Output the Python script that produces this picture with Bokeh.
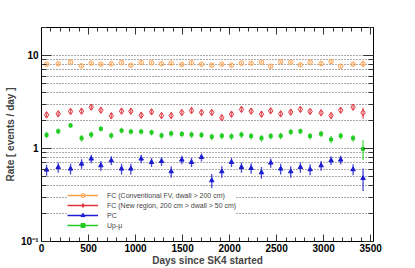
from bokeh.plotting import figure
from bokeh.models import (FixedTicker, SingleIntervalTicker, LinearAxis, LogAxis,
                          Legend, LegendItem)
from bokeh.embed import file_html
from bokeh.resources import INLINE

# ---- data ----
days = [54, 178, 309, 426, 529, 631, 742, 851, 950, 1060, 1170, 1276, 1379, 1492,
        1595, 1701, 1810, 1917, 2020, 2126, 2229, 2339, 2437, 2543, 2650, 2753,
        2856, 2973, 3079, 3181, 3313, 3419]

fc_conv = [8.06, 8.14, 8.47, 7.75, 8.27, 8.06, 8.14, 8.41, 7.87, 8.41, 8.36,
           8.14, 8.27, 8.00, 8.36, 8.06, 7.87, 8.06, 7.87, 8.27, 8.27, 8.47,
           7.67, 8.55, 8.47, 7.94, 8.47, 8.20, 8.62, 7.67, 8.06, 8.14]
fc_conv_err = [0.30, 0.30, 0.30, 0.30, 0.30, 0.30, 0.30, 0.30, 0.30, 0.30, 0.30,
               0.30, 0.30, 0.30, 0.30, 0.30, 0.30, 0.30, 0.30, 0.30, 0.30, 0.30,
               0.30, 0.30, 0.30, 0.30, 0.30, 0.30, 0.30, 0.30, 0.30, 0.65]

fc_new = [2.30, 2.36, 2.50, 2.52, 2.78, 2.58, 2.25, 2.52, 2.52, 2.28, 2.48,
          2.26, 2.26, 2.44, 2.56, 2.44, 2.44, 2.14, 2.34, 2.63, 2.52, 2.34,
          2.54, 2.36, 2.46, 2.63, 2.50, 2.42, 2.26, 2.58, 2.78, 2.42]
fc_new_err = [0.16, 0.16, 0.16, 0.16, 0.16, 0.16, 0.16, 0.16, 0.16, 0.16, 0.16,
              0.16, 0.16, 0.16, 0.16, 0.16, 0.16, 0.16, 0.16, 0.16, 0.16, 0.16,
              0.16, 0.16, 0.16, 0.16, 0.16, 0.16, 0.16, 0.16, 0.16, 0.33]

pc = [0.590, 0.629, 0.605, 0.684, 0.775, 0.656, 0.743, 0.605, 0.605, 0.775, 0.712,
      0.730, 0.566, 0.756, 0.712, 0.806, 0.453, 0.566, 0.712, 0.629, 0.614, 0.552,
      0.702, 0.605, 0.566, 0.629, 0.595, 0.656, 0.743, 0.756, 0.595, 0.479]
pc_err = [0.08, 0.08, 0.08, 0.08, 0.08, 0.08, 0.08, 0.08, 0.08, 0.08, 0.08,
          0.08, 0.08, 0.08, 0.08, 0.08, 0.08, 0.08, 0.08, 0.08, 0.08, 0.08,
          0.08, 0.08, 0.08, 0.08, 0.08, 0.08, 0.08, 0.08, 0.08, 0.13]

upmu = [1.40, 1.53, 1.77, 1.29, 1.41, 1.63, 1.38, 1.56, 1.52, 1.52, 1.49,
        1.38, 1.45, 1.43, 1.41, 1.40, 1.34, 1.37, 1.35, 1.41, 1.36, 1.29,
        1.36, 1.37, 1.51, 1.53, 1.36, 1.44, 1.25, 1.37, 1.29, 0.99]
upmu_err = [0.11, 0.11, 0.11, 0.11, 0.11, 0.11, 0.11, 0.11, 0.11, 0.11, 0.11,
            0.11, 0.11, 0.11, 0.11, 0.11, 0.11, 0.11, 0.11, 0.11, 0.11, 0.11,
            0.11, 0.11, 0.11, 0.11, 0.11, 0.11, 0.11, 0.11, 0.11, 0.24]

series_labels = ["FC (Conventional FV, dwall > 200 cm)",
                 "FC (New region, 200 cm > dwall > 50 cm)",
                 "PC",
                 "Up-\u03bc"]

y_major = [0.1, 1, 10]
y_minor = [0.2, 0.3, 0.4, 0.5, 0.6, 0.7, 0.8, 0.9,
           2, 3, 4, 5, 6, 7, 8, 9, 20]
y_tick_labels = {0.1: "10\u207b\u00b9", 1: "1", 10: "10"}

FONT = "Liberation Sans"

p = figure(frame_width=332, frame_height=214, x_range=(0, 3530), y_range=(0.1, 20),
           y_axis_type="log", output_backend="svg", toolbar_location=None,
           min_border_left=41, min_border_right=42, min_border_top=27,
           min_border_bottom=27)
p.outline_line_color = "black"
p.background_fill_color = "white"
p.border_fill_color = "white"

# bottom axis
xa = p.xaxis[0]
xa.ticker = SingleIntervalTicker(interval=500, num_minor_ticks=5)
xa.major_tick_in = 7
xa.major_tick_out = 0
xa.minor_tick_in = 4
xa.minor_tick_out = 0
xa.major_label_standoff = 2
xa.major_label_text_font = FONT
xa.major_label_text_font_size = "10px"
xa.major_label_text_font_style = "bold"
xa.major_label_text_color = "black"
xa.axis_label = "Days since SK4 started"
xa.axis_label_text_font = FONT
xa.axis_label_text_font_size = "10px"
xa.axis_label_text_font_style = "bold"
xa.axis_label_standoff = 0
xa.axis_line_color = "black"
xa.major_tick_line_color = "#333333"
xa.minor_tick_line_color = "#333333"

# left axis
ya = p.yaxis[0]
ya.ticker = FixedTicker(ticks=y_major, minor_ticks=y_minor)
ya.major_label_overrides = y_tick_labels
ya.major_tick_in = 10
ya.major_tick_out = 0
ya.minor_tick_in = 5
ya.minor_tick_out = 0
ya.major_label_standoff = 3
ya.major_label_text_font = FONT
ya.major_label_text_font_size = "10px"
ya.major_label_text_font_style = "bold"
ya.major_label_text_color = "black"
ya.axis_label = "Rate [ events / day ]"
ya.axis_label_text_font = FONT
ya.axis_label_text_font_size = "10px"
ya.axis_label_text_font_style = "bold"
ya.axis_label_standoff = 2
ya.axis_line_color = "black"
ya.major_tick_line_color = "#333333"
ya.minor_tick_line_color = "#333333"

# top and right axes (ticks only)
top = LinearAxis(ticker=SingleIntervalTicker(interval=500, num_minor_ticks=5),
                 major_tick_in=7, major_tick_out=0, minor_tick_in=4, minor_tick_out=0,
                 major_label_text_font_size="0px", major_label_text_color=None,
                 major_label_standoff=0, axis_line_color="black",
                 major_tick_line_color="#333333", minor_tick_line_color="#333333")
p.add_layout(top, "above")
right = LogAxis(ticker=FixedTicker(ticks=y_major, minor_ticks=y_minor),
                major_tick_in=10, major_tick_out=0, minor_tick_in=5, minor_tick_out=0,
                major_label_text_font_size="0px", major_label_text_color=None,
                major_label_standoff=0, axis_line_color="black",
                major_tick_line_color="#333333", minor_tick_line_color="#333333")
p.add_layout(right, "right")

# grid
p.xgrid.visible = False
p.ygrid.grid_line_color = "#555555"
p.ygrid.grid_line_dash = "1 2"
p.ygrid.grid_line_width = 1
p.ygrid.minor_grid_line_color = "#555555"
p.ygrid.minor_grid_line_dash = "1 2"
p.ygrid.minor_grid_line_width = 1

colors = ["#ffa048", "#e0303a", "#1c1cd0", "#22cc22"]
markers = ["circle", "diamond", "triangle", "square"]
sizes = [4.5, 6.5, 4.5, 3.0]
filled = [False, False, True, True]
vals = [fc_conv, fc_new, pc, upmu]
errs = [fc_conv_err, fc_new_err, pc_err, upmu_err]

items = []
for lab, c, m, s, f, v, e in zip(series_labels, colors, markers, sizes, filled, vals, errs):
    lo = [a - b for a, b in zip(v, e)]
    hi = [a + b for a, b in zip(v, e)]
    p.segment(x0=days, y0=lo, x1=days, y1=hi, line_color=c, line_width=1.3,
              line_alpha=0.8)
    sc = p.scatter(x=days, y=v, marker=m, size=s, line_color=c, line_width=1,
                   fill_color=c if f else None)
    # single-point line: draws nothing in the plot, gives the legend its line
    ln = p.line(x=days[:1], y=v[:1], line_color=c, line_width=1.5)
    items.append(LegendItem(label=lab, renderers=[ln, sc]))

legend = Legend(items=items, location=(26, 11), padding=2, spacing=0, margin=0,
                glyph_width=31, glyph_height=10, label_height=10, label_standoff=9,
                label_text_font=FONT, label_text_font_size="7px",
                border_line_color=None, background_fill_color="white",
                background_fill_alpha=1.0)
p.add_layout(legend)

open("out.html", "w").write(file_html(p, INLINE))
